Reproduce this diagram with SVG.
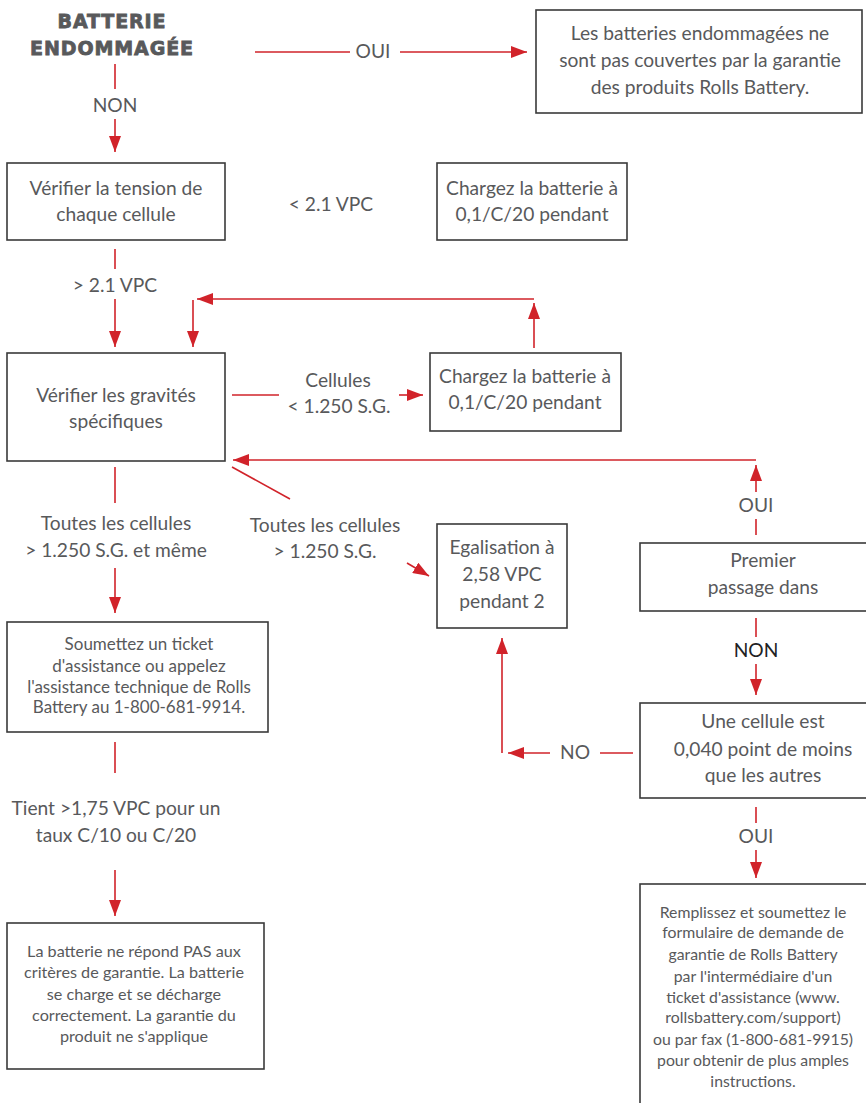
<svg xmlns="http://www.w3.org/2000/svg" width="866" height="1103" viewBox="0 0 866 1103">
<defs>
<marker id="ah" markerUnits="userSpaceOnUse" markerWidth="16" markerHeight="12" refX="16" refY="6" orient="auto">
<path d="M0,0 L16,6 L0,12 z" fill="#d1232a"/>
</marker>
<style>
.box{fill:#fff;stroke:#3a3a3a;stroke-width:1.6}
.t{font-family:Lato,"Liberation Sans",sans-serif;fill:#58595b;text-anchor:middle}
.l{font-size:19.2px}
.m{font-size:17px}
.k{font-size:15.8px}
.s{font-size:16.2px}
.ttl{font-family:"DejaVu Sans","Liberation Sans",sans-serif;font-weight:bold;font-size:19px;fill:#58595b;stroke:#58595b;stroke-width:0.8;text-anchor:middle;letter-spacing:0.9px}
.c{stroke:#d1232a;stroke-width:1.6;fill:none}
.a{marker-end:url(#ah)}
</style>
</defs>
<rect width="866" height="1103" fill="#fff"/>
<g id="connectors">
<line class="c" x1="115" y1="64" x2="115" y2="89"/>
<line class="c a" x1="115" y1="119" x2="115" y2="152"/>
<line class="c" x1="255" y1="52" x2="350" y2="52"/>
<line class="c a" x1="400" y1="52" x2="527" y2="52"/>
<line class="c" x1="115" y1="249" x2="115" y2="269"/>
<line class="c a" x1="115" y1="299" x2="115" y2="347"/>
<line class="c a" x1="534" y1="348" x2="534" y2="303"/>
<line class="c a" x1="534" y1="299" x2="197" y2="299"/>
<line class="c a" x1="193" y1="300" x2="193" y2="347"/>
<line class="c" x1="232" y1="395" x2="279" y2="395"/>
<line class="c a" x1="399" y1="395" x2="423" y2="395"/>
<line class="c" x1="756" y1="519" x2="756" y2="535"/>
<line class="c a" x1="756" y1="492" x2="756" y2="465"/>
<line class="c a" x1="756" y1="460" x2="233" y2="460"/>
<line class="c" x1="232" y1="467" x2="290" y2="499"/>
<line class="c a" x1="407" y1="563" x2="429" y2="576"/>
<line class="c" x1="115" y1="467" x2="115" y2="503"/>
<line class="c a" x1="115" y1="568" x2="115" y2="613"/>
<line class="c" x1="756" y1="618" x2="756" y2="637"/>
<line class="c a" x1="756" y1="664" x2="756" y2="695"/>
<line class="c" x1="633" y1="753" x2="600" y2="753"/>
<line class="c a" x1="550" y1="753" x2="508" y2="753"/>
<line class="c a" x1="502" y1="753" x2="502" y2="638"/>
<line class="c" x1="756" y1="807" x2="756" y2="823"/>
<line class="c a" x1="756" y1="850" x2="756" y2="878"/>
<line class="c" x1="115" y1="742" x2="115" y2="773"/>
<line class="c a" x1="115" y1="870" x2="115" y2="916"/>
<g id="labels">
<text class="t l" x="115" y="112">NON</text>
<text class="t l" x="373" y="58">OUI</text>
<text class="t l" x="115" y="292">&gt; 2.1 VPC</text>
<text class="t l" x="331" y="211">&lt; 2.1 VPC</text>
<text class="t l" x="338" y="387">Cellules</text>
<text class="t l" x="339" y="413">&lt; 1.250 S.G.</text>
<text class="t l" x="756" y="512">OUI</text>
<text class="t l" x="116" y="530">Toutes les cellules</text>
<text class="t l" x="116" y="557">&gt; 1.250 S.G. et même</text>
<text class="t l" x="325" y="532">Toutes les cellules</text>
<text class="t l" x="325" y="558">&gt; 1.250 S.G.</text>
<text class="t l" x="756" y="657" style="fill:#222">NON</text>
<text class="t l" x="575" y="759">NO</text>
<text class="t l" x="756" y="843">OUI</text>
<text class="t l" x="116" y="815">Tient &gt;1,75 VPC pour un</text>
<text class="t l" x="116" y="842">taux C/10 ou C/20</text>
</g>
</g>
<g id="n_start">
<text class="ttl" x="112" y="28">BATTERIE</text>
<text class="ttl" x="112" y="55">ENDOMMAGÉE</text>
</g>
<g id="n_excluded">
<rect class="box" x="536" y="10" width="326" height="103"/>
<text class="t l" x="700" y="40">Les batteries endommagées ne</text>
<text class="t l" x="700" y="67">sont pas couvertes par la garantie</text>
<text class="t l" x="700" y="94">des produits Rolls Battery.</text>
</g>
<g id="n_check_voltage">
<rect class="box" x="7" y="163" width="218" height="77"/>
<text class="t l" x="116" y="195">Vérifier la tension de</text>
<text class="t l" x="116" y="221">chaque cellule</text>
</g>
<g id="n_charge1">
<rect class="box" x="437" y="163" width="190" height="77"/>
<text class="t l" x="532" y="195">Chargez la batterie à</text>
<text class="t l" x="532" y="221">0,1/C/20 pendant</text>
</g>
<g id="n_check_sg">
<rect class="box" x="7" y="353" width="218" height="108"/>
<text class="t l" x="116" y="402">Vérifier les gravités</text>
<text class="t l" x="116" y="428">spécifiques</text>
</g>
<g id="n_charge2">
<rect class="box" x="430" y="353" width="191" height="78"/>
<text class="t l" x="525" y="383">Chargez la batterie à</text>
<text class="t l" x="525" y="409">0,1/C/20 pendant</text>
</g>
<g id="n_equalize">
<rect class="box" x="437" y="524" width="130" height="104"/>
<text class="t l" x="502" y="554">Egalisation à</text>
<text class="t l" x="502" y="581">2,58 VPC</text>
<text class="t l" x="502" y="608">pendant 2</text>
</g>
<g id="n_first_pass">
<rect class="box" x="640" y="543" width="250" height="68"/>
<text class="t l" x="763" y="567">Premier</text>
<text class="t l" x="763" y="594">passage dans</text>
</g>
<g id="n_one_cell">
<rect class="box" x="640" y="703" width="250" height="95"/>
<text class="t l" x="763" y="728">Une cellule est</text>
<text class="t l" x="763" y="756">0,040 point de moins</text>
<text class="t l" x="763" y="782">que les autres</text>
</g>
<g id="n_support">
<rect class="box" x="7" y="622" width="261" height="110"/>
<text class="t m" x="139" y="650">Soumettez un ticket</text>
<text class="t m" x="139" y="672">d'assistance ou appelez</text>
<text class="t m" x="139" y="693">l'assistance technique de Rolls</text>
<text class="t m" x="139" y="713">Battery au 1-800-681-9914.</text>
</g>
<g id="n_not_warranty">
<rect class="box" x="7" y="923" width="257" height="146"/>
<text class="t s" x="134" y="957">La batterie ne répond PAS aux</text>
<text class="t s" x="134" y="978">critères de garantie. La batterie</text>
<text class="t s" x="134" y="1000">se charge et se décharge</text>
<text class="t s" x="134" y="1021">correctement. La garantie du</text>
<text class="t s" x="134" y="1042">produit ne s'applique</text>
</g>
<g id="n_claim">
<rect class="box" x="640" y="884" width="250" height="240"/>
<text class="t k" x="753" y="918">Remplissez et soumettez le</text>
<text class="t k" x="753" y="938">formulaire de demande de</text>
<text class="t k" x="753" y="960">garantie de Rolls Battery</text>
<text class="t k" x="753" y="982">par l'intermédiaire d'un</text>
<text class="t k" x="753" y="1003">ticket d'assistance (www.</text>
<text class="t k" x="753" y="1023">rollsbattery.com/support)</text>
<text class="t k" x="753" y="1045">ou par fax (1-800-681-9915)</text>
<text class="t k" x="753" y="1066">pour obtenir de plus amples</text>
<text class="t k" x="753" y="1087">instructions.</text>
</g>
</svg>
